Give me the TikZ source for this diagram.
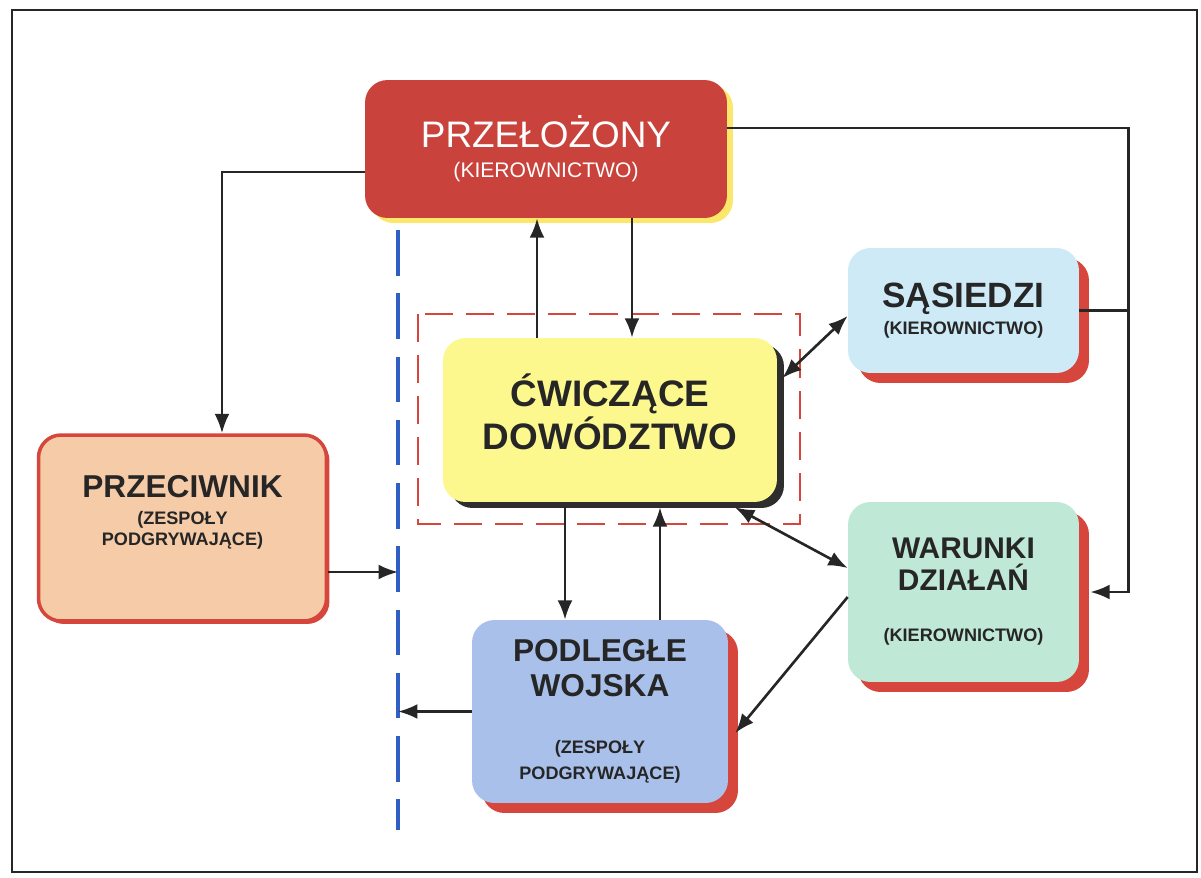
\documentclass[tikz,border=0pt]{standalone}
\usepackage{fontspec}
\setmainfont{Liberation Sans}
\usetikzlibrary{arrows.meta, shadows}
\definecolor{SUPc}{HTML}{C9423B}
\definecolor{SHY}{HTML}{FBE86A}
\definecolor{CWIc}{HTML}{FCF88E}
\definecolor{SHD}{HTML}{2E2E2E}
\definecolor{NEIc}{HTML}{CDEAF6}
\definecolor{CONc}{HTML}{C0E8D6}
\definecolor{SUBc}{HTML}{A9C1EA}
\definecolor{OPPc}{HTML}{F6CBA8}
\definecolor{RED}{HTML}{D6463C}
\definecolor{SEP}{HTML}{2F5EC4}
\definecolor{TXT}{HTML}{262626}
\tikzset{
  box/.style={% Common look of all boxes
      rectangle, rounded corners=0.45cm,
      align=center, inner sep=2pt,
      text=TXT,
  },
  SUP/.style={% Red box on top, yellow shadow
      box, fill=SUPc, text=white,
      minimum width=7.24cm, minimum height=2.76cm,
      font=\fontsize{21}{17}\selectfont,
      drop shadow={shadow xshift=0.12cm, shadow yshift=-0.1cm, fill=SHY, opacity=1},
  },
  CWI/.style={% Yellow box in the middle, dark shadow
      box, fill=CWIc,
      minimum width=6.68cm, minimum height=3.28cm,
      font=\bfseries\fontsize{21}{24.5}\selectfont, text depth=10pt,
      drop shadow={shadow xshift=0.14cm, shadow yshift=-0.12cm, fill=SHD, opacity=1},
  },
  SIDE/.style={% Boxes with red shadow
      box,
      drop shadow={shadow xshift=0.2cm, shadow yshift=-0.2cm, fill=RED, opacity=1},
  },
  OPP/.style={% Box with red border
      box, fill=OPPc, draw=RED, line width=2pt,
      minimum width=5.76cm, minimum height=3.72cm,
      font=\bfseries\fontsize{18}{15.4}\selectfont, text depth=20pt,
      drop shadow={shadow xshift=0.06cm, shadow yshift=-0.06cm, fill=RED, opacity=1},
  },
  link/.style={line width=1.5pt, draw=TXT},
  frameline/.style={line width=1.2pt, draw=RED, dash pattern=on 16pt off 7.4pt},
  sepline/.style={line width=2.8pt, draw=SEP, dash pattern=on 26pt off 10pt},
}
\newcommand{\sm}[1]{{\bfseries\fontsize{10.3}{12}\selectfont #1}}

\begin{document}
\begin{tikzpicture}[x=0.02cm, y=-0.02cm, >={Latex[length=11pt,width=8.5pt]}]
  \useasboundingbox (0,0) rectangle (1201,877);
  \draw[line width=1.6pt, draw=black!85] (12,10) rectangle (1197,872);

  % boxes
  \node[SUP] (prz) at (546,149) {PRZEŁOŻONY\\{\fontsize{12}{14}\selectfont (KIEROWNICTWO)}};
  \node[CWI] (cw) at (610,420) {ĆWICZĄCE\\DOWÓDZTWO};
  \node[SIDE, fill=NEIc, minimum width=4.62cm, minimum height=2.5cm,
        font=\bfseries\fontsize{20}{15}\selectfont] (sas) at (963.5,310.5)
        {SĄSIEDZI\\\sm{(KIEROWNICTWO)}};
  \node[SIDE, fill=CONc, minimum width=4.62cm, minimum height=3.6cm,
        font=\bfseries\fontsize{17}{18.2}\selectfont] (war) at (963.5,592)
        {WARUNKI\\DZIAŁAŃ\\[10.8pt]\sm{(KIEROWNICTWO)}};
  \node[SIDE, fill=SUBc, minimum width=5.12cm, minimum height=3.66cm,
        font=\bfseries\fontsize{18}{20}\selectfont] (pod) at (600,711.5)
        {PODLEGŁE\\WOJSKA\\[12.5pt]\sm{(ZESPOŁY}\\[-5pt]\sm{PODGRYWAJĄCE)}};
  \node[OPP] (prc) at (182.5,528) {PRZECIWNIK\\\sm{(ZESPOŁY}\\[-4pt]\sm{PODGRYWAJĄCE)}};

  % frames
  \draw[frameline] ([shift={(-0.5cm,0.48cm)}]cw.north west) rectangle ([shift={(0.46cm,-0.44cm)}]cw.south east);
  \coordinate (sepT) at (398,230);
  \coordinate (sepB) at (398,830);
  \draw[sepline] (sepT) -- (sepB);

  % connections
  \coordinate (bus) at ([xshift=0.98cm]war.east);
  \draw[link, ->] ([yshift=-0.46cm]prz.west) -| ([xshift=0.79cm]prc.north);
  \draw[link, ->] ([yshift=0.42cm]prz.east) -| (bus) -- ([xshift=0.22cm]war.east);
  \draw[link] (sas.east) -- (sas.east -| bus);
  \draw[link, ->] ([xshift=-1.46cm]cw.north) -- ([xshift=-1.46cm]cw.north |- prz.south);
  \draw[link, ->] ([xshift=0.44cm]cw.north |- prz.south) -- ([xshift=0.44cm]cw.north);
  \draw[link, <->] ([xshift=0.1cm,yshift=0.84cm]cw.east) -- ([yshift=-0.11cm]sas.west);
  \draw[link, <->] ([xshift=2.5cm,yshift=-0.1cm]cw.south) -- ([yshift=0.48cm]war.west);
  \draw[link, ->] ([xshift=-0.9cm,yshift=-0.1cm]cw.south) -- ([xshift=-0.9cm]cw.south |- pod.north);
  \draw[link, ->] ([xshift=1cm]cw.south |- pod.north) -- ([xshift=1cm,yshift=-0.1cm]cw.south);
  \draw[link, ->] ([yshift=-0.1cm]war.west) -- ([xshift=0.14cm,yshift=-0.43cm]pod.east);
  \draw[link, ->] ([yshift=-0.88cm]prc.east) -- ([yshift=-0.88cm]prc.east -| sepT);
  \draw[link, ->] (pod.west) -- (pod.west -| sepT);
\end{tikzpicture}
\end{document}
